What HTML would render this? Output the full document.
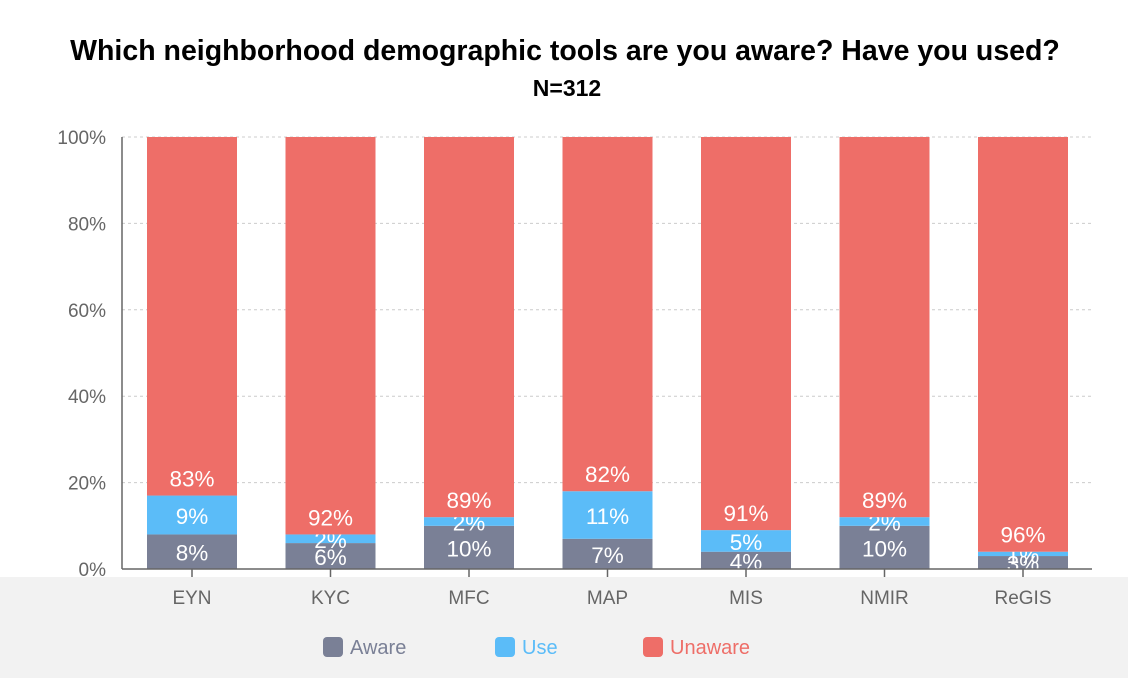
<!DOCTYPE html>
<html><head><meta charset="utf-8"><style>
body{margin:0;width:1128px;height:678px;overflow:hidden;background:#fff;font-family:"Liberation Sans",Arial,sans-serif}
</style></head><body>
<svg width="1128" height="678">
<rect x="0" y="577" width="1128" height="101" fill="#f2f2f2"/>
<text x="565" y="60" text-anchor="middle" font-size="28.5" font-weight="bold" fill="#000">Which neighborhood demographic tools are you aware? Have you used?</text>
<text x="567" y="96" text-anchor="middle" font-size="23" font-weight="bold" fill="#000">N=312</text>
<g id="grid"></g><g id="bars"></g><g id="axes"></g><g id="legend"></g>
</svg>
<script>
const categories=["EYN","KYC","MFC","MAP","MIS","NMIR","ReGIS"];
const aware=[8,6,10,7,4,10,3];
const use=[9,2,2,11,5,2,1];
const unaware=[83,92,89,82,91,89,96];
const yTicks=[0,20,40,60,80,100];
const NS="http://www.w3.org/2000/svg";
const x0=122,x1=1092,y0=569,yTop=137,bw=90;
const xc=i=>192+i*138.5;
const y=v=>y0-(v/100)*(y0-yTop);
function mk(tag,attrs,parent){const e=document.createElementNS(NS,tag);for(const k in attrs)e.setAttribute(k,attrs[k]);parent.appendChild(e);return e;}
const grid=document.getElementById('grid'),bars=document.getElementById('bars'),axes=document.getElementById('axes'),legend=document.getElementById('legend');
yTicks.forEach(t=>{
 if(t>0){const l=mk('line',{x1:x0,x2:x1,y1:y(t),y2:y(t),stroke:'#ccc','stroke-dasharray':'3,3'},grid);
 
 }
 const tx=mk('text',{x:106,y:y(t)+7,'text-anchor':'end','font-size':19,fill:'#666'},axes);tx.textContent=t+'%';
 
 
});
const cols=['#7a8096','#5bbcf8','#ee6e68'];
const names=['aware','use','unaware'];
categories.forEach((c,i)=>{
 const vals=[aware[i],use[i],unaware[i]];
 let base=0;
 vals.forEach((v,s)=>{
  let top=Math.min(base+v,100);
  const r=mk('rect',{x:xc(i)-bw/2,y:y(top),width:bw,height:y(base)-y(top),fill:cols[s]},bars);
  
  
  const ly=s===2?y(base)-9:(y(base)+y(top))/2+9;
  const t=mk('text',{x:xc(i),y:ly,'text-anchor':'middle','font-size':22.5,fill:'#fff'},bars);
  t.textContent=v+'%';
  
  
  base=top;
 });
 const tk=mk('line',{x1:xc(i),x2:xc(i),y1:y0,y2:y0+8,stroke:'#666','stroke-width':1.5},axes);
 
 
 const xt=mk('text',{x:xc(i),y:604,'text-anchor':'middle','font-size':19,fill:'#666'},axes);xt.textContent=c;
 
 
});
const ax=mk('line',{x1:x0,x2:x1,y1:y0,y2:y0,stroke:'#666','stroke-width':1.5},axes);


const ay=mk('line',{x1:x0,x2:x0,y1:yTop,y2:y0,stroke:'#666','stroke-width':1.5},axes);


const lg=[['Aware',323],['Use',495],['Unaware',643]];
lg.forEach((l,s)=>{
 const r=mk('rect',{x:l[1],y:637,width:20,height:20,rx:4,fill:cols[s]},legend);
 
 
 const t=mk('text',{x:l[1]+27,y:654,'font-size':20,fill:cols[s]},legend);t.textContent=l[0];
 
 
});
</script>
</body></html>
